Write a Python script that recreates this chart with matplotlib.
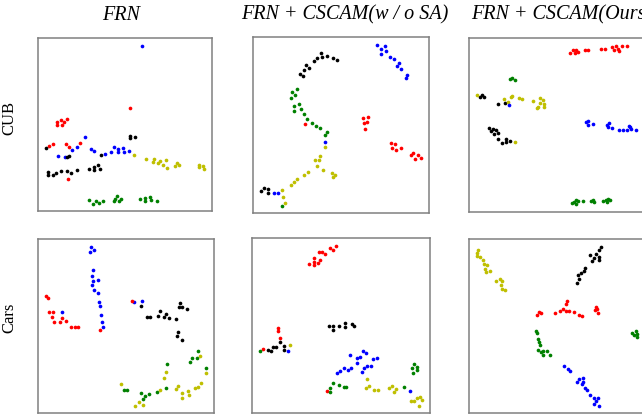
import numpy as np
import matplotlib
matplotlib.use('Agg')
import matplotlib.pyplot as plt

# t-SNE embeddings (panel pixel coords, y down)
cub_frn = {
    'b': [(338,49),(166,323),(142,353),(125,360),(84,380),(106,383),(184,357),(192,364),(224,373),(243,368),
          (253,353),(264,358),(264,368),(280,356),(281,368),(297,364)],
    'r': [(301,235),(81,277),(92,271),(102,277),(111,267),(82,287),(97,287),(56,349),(69,344),(109,344),
          (118,352),(150,340),(113,448)],
    'k': [(301,318),(301,325),(316,322),(47,354),(117,378),(111,381),(212,375),(54,428),(54,437),(70,436),
          (79,431),(92,424),(112,425),(122,429),(140,421),(176,418),(192,420),(192,413),(205,407),(209,418)],
    'y': [(314,375),(350,388),(372,388),(370,398),(386,399),(390,393),(401,405),(409,392),(413,415),(435,408),
          (441,400),(449,406),(508,405),(508,413),(521,408),(522,418)],
    'g': [(177,511),(189,522),(197,514),(208,519),(218,514),(251,515),(255,507),(262,499),(268,515),(274,508),
          (331,509),(346,505),(346,514),(360,502),(364,511),(381,514)],
}
cub_nosa = {
    'b': [(397,47),(410,57),(421,49),(424,64),(410,72),(437,82),(447,89),(457,109),(463,101),(470,119),
          (486,135),(484,145),(241,335),(87,487),(100,487)],
    'k': [(229,71),(232,82),(217,85),(245,78),(206,94),(183,105),(191,115),(177,121),(164,133),(174,138),
          (264,85),(275,90),(48,482),(57,472),(70,476),(70,487)],
    'g': [(157,177),(141,187),(151,195),(137,205),(162,221),(148,228),(169,238),(147,244),(176,252),(186,267),
          (201,278),(214,287),(224,294),(245,305),(239,316),(110,526)],
    'r': [(181,283),(355,265),(370,261),(368,275),(358,279),(362,296),(439,340),(450,343),(442,355),(453,361),
          (468,355),(498,376),(506,370),(520,375),(510,386),(529,385)],
    'y': [(239,351),(225,378),(210,390),(223,390),(217,408),(235,418),(190,424),(177,433),(157,445),(148,454),
          (137,463),(261,427),(271,434),(264,441),(110,479),(115,499),(119,519)],
}
cub_ours = {
    'r': [(331,70),(341,62),(350,60),(345,70),(355,68),(376,62),(386,61),(424,58),(435,57),(456,52),
          (463,60),(470,50),(476,57),(478,65),(488,50),(502,49)],
    'g': [(151,147),(158,144),(166,151),(336,521),(343,516),(348,510),(349,524),(356,515),(370,514),(393,514),
          (401,511),(404,517),(430,515),(440,512),(444,507),(442,518),(451,512)],
    'k': [(62,202),(68,196),(72,203),(114,223),(136,219),(87,296),(94,305),(99,297),(102,312),(108,302),
          (114,309),(114,329),(126,339),(138,329),(138,338),(151,334)],
    'y': [(52,196),(134,209),(146,216),(154,203),(157,198),(178,205),(187,207),(221,215),(242,204),(251,212),
          (241,221),(253,223),(235,231),(233,236),(254,231),(167,336)],
    'b': [(148,226),(379,278),(386,275),(385,285),(399,282),(443,285),(449,280),(445,293),(456,296),(479,302),
          (491,301),(503,300),(507,288),(511,293),(515,298),(529,302)],
}
cars_frn = {
    'b': [(184,57),(192,65),(181,71),(188,125),(186,142),(190,158),(204,154),(186,171),(193,185),(205,196),
          (207,222),(209,235),(213,262),(216,282),(219,296),(96,252),(314,222),(336,220)],
    'r': [(47,204),(55,209),(57,253),(68,251),(66,268),(97,270),(73,282),(89,283),(107,279),(122,296),
          (135,296),(144,296),(211,306),(307,218)],
    'k': [(333,233),(353,268),(361,268),(386,265),(391,249),(410,257),(402,268),(417,269),(440,272),(452,224),
          (447,237),(458,238),(471,243),(444,311),(443,323),(456,336)],
    'g': [(504,368),(487,389),(482,401),(502,391),(529,421),(411,409),(408,482),(381,493),(359,499),(346,504),
          (333,497),(339,514),(283,487),(292,488)],
    'y': [(512,385),(529,437),(409,432),(402,451),(514,465),(504,477),(496,482),(475,489),(478,501),(457,496),
          (457,512),(445,476),(440,484),(391,488),(273,470),(328,524),(315,534),(339,532)],
}
cars_nosa = {
    'r': [(274,55),(257,61),(265,67),(240,77),(231,71),(222,73),(207,89),(227,97),(219,104),(207,102),
          (207,112),(192,107),(101,302),(99,309),(105,331),(55,363),(247,491)],
    'k': [(254,293),(264,295),(266,306),(282,296),(299,286),(299,297),(322,287),(328,293),(84,357),(95,358),
          (106,344),(117,355),(117,367),(70,367),(79,370)],
    'y': [(135,353),(366,455),(363,480),(373,475),(388,487),(398,487),(433,482),(440,476),(446,494),(453,484),
          (517,512),(526,508),(530,518),(508,520),(498,520),(522,534)],
    'g': [(47,369),(506,410),(502,422),(515,418),(516,428),(504,435),(476,479),(265,466),(282,471),(296,477),
          (304,477),(256,480),(256,494)],
    'b': [(130,371),(316,383),(355,370),(362,377),(336,391),(345,389),(383,393),(396,390),(337,407),(378,414),
          (366,415),(296,420),(318,422),(308,428),(285,430),(277,437),(358,422),(350,433),(494,489)],
}
cars_ours = {
    'y': [(55,64),(53,73),(51,84),(61,87),(69,96),(73,108),(82,111),(75,123),(79,131),(90,128),
          (108,158),(121,153),(127,157),(124,172),(128,182),(136,185)],
    'k': [(425,57),(419,65),(410,76),(391,79),(417,86),(418,95),(404,89),(397,97),(377,120),(373,129),
          (365,135),(355,140),(358,152),(352,164)],
    'r': [(321,219),(319,228),(309,242),(300,248),(286,254),(318,249),(327,248),(343,252),(358,261),(367,265),
          (238,252),(245,254),(231,262),(409,237),(405,247),(413,244),(416,256)],
    'g': [(229,309),(231,315),(236,333),(239,343),(242,352),(236,365),(249,368),(243,373),(249,382),(263,370),
          (271,380),(528,308),(518,316),(522,322),(532,318),(532,327)],
    'b': [(314,415),(324,424),(331,431),(357,453),(371,452),(352,462),(370,462),(366,470),(377,481),(383,488),
          (392,501),(404,511),(414,510),(410,520),(402,528),(418,534)],
}

titles = ['FRN', 'FRN + CSCAM(w / o SA)', 'FRN + CSCAM(Ours)']
rows = ['CUB', 'Cars']

W, H = 642, 415
fig = plt.figure(figsize=(W/100, H/100), dpi=100)

# (data, xlim, ylim, box in pixels: x0, x1, y0, y1)
panels = [
    (cub_frn,   (24,547), (24,544), (38,212,38,211)),
    (cub_nosa,  (24,553), (22,548), (253,429,37,213)),
    (cub_ours,  (28,553), (25,547), (469,644,38,212)),
    (cars_frn,  (24,553), (32,556), (38,214,239,413)),
    (cars_nosa, (22,555), (30,556), (252,430,238,413)),
    (cars_ours, (28,553), (32,556), (469,644,239,413)),
]

for data, xl, yl, (x0, x1, y0, y1) in panels:
    ax = fig.add_axes([x0/W, 1-y1/H, (x1-x0)/W, (y1-y0)/H])
    for c, pts in data.items():
        p = np.array(pts)
        ax.scatter(p[:,0], p[:,1], s=7, c=c, linewidths=0)
    ax.set_xlim(*xl)
    ax.set_ylim(yl[1], yl[0])
    ax.set_xticks([])
    ax.set_yticks([])
    for sp in ax.spines.values():
        sp.set_color('#808080')
        sp.set_linewidth(1.1)

for t, xc in zip(titles, [121, 345, 471]):
    ha = 'left' if xc == 471 else 'center'
    fig.text(xc/W, 1-15/H, t, ha=ha, va='center', fontsize=14.5,
             family='Liberation Serif', style='italic')

for r, yc in zip(rows, [118, 318]):
    fig.text(9/W, 1-yc/H, r, ha='center', va='center', rotation=90,
             fontsize=12, family='Liberation Serif')

fig.savefig('out.png', dpi=100)
